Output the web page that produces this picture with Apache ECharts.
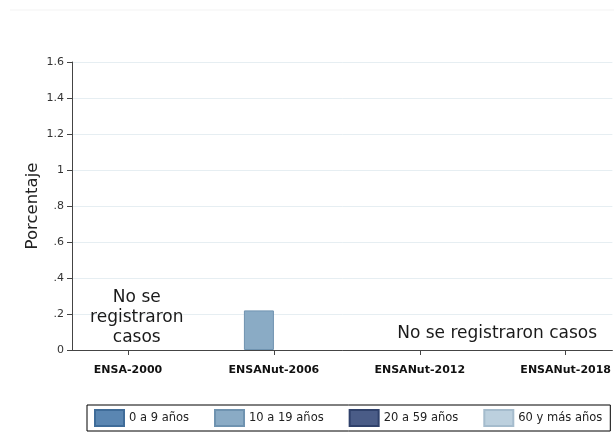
<!DOCTYPE html>
<html><head><meta charset="utf-8">
<script src="https://cdn.jsdelivr.net/npm/echarts@6/dist/echarts.min.js"></script>
<style>html,body{margin:0;padding:0;background:#fff}#c{width:614px;height:436px}</style>
</head><body><div id="c"></div>
<script>
const categories = ['ENSA-2000', 'ENSANut-2006', 'ENSANut-2012', 'ENSANut-2018'];
const seriesNames = ['0 a 9 años', '10 a 19 años', '20 a 59 años', '60 y más años'];
const s0a9 = [null, null, null, null];
const s10a19 = [null, 0.22, null, null];
const s20a59 = [null, null, null, null];
const s60mas = [null, null, null, null];
const yTicks = ['0', '.2', '.4', '.6', '.8', '1', '1.2', '1.4', '1.6'];
const notes = [[0.06, 0.178, 'No se\nregistraron\ncasos'], [2.53, 0.094, 'No se registraron casos']];

const colors = ['#5a86b2', '#8aabc5', '#4a5c87', '#bcd0de'];
const borders = ['#3f6c99', '#6f93b0', '#2f416b', '#a5bccd'];
const allData = [s0a9, s10a19, s20a59, s60mas];
const FONT = 'DejaVu Sans';

const chart = echarts.init(document.getElementById('c'));
const barSeries = allData.map((arr, i) => ({
  type: 'bar', name: seriesNames[i],
  data: arr.map((v, j) => [j, v]),
  barWidth: 30, barGap: '0.001%',
  itemStyle: { color: colors[i], borderColor: borders[i], borderWidth: 1 },
  silent: true
}));
chart.setOption({
  animation: false,
  textStyle: { fontFamily: FONT },
  grid: { left: 72, top: 62, bottom: 86, right: 0, containLabel: false },
  xAxis: {
    type: 'value', min: -0.384, max: 3.32,
    axisLine: { show: true, onZero: false, lineStyle: { color: '#444', width: 1 } },
    axisTick: { show: true, customValues: [0, 1, 2, 3], length: 5, lineStyle: { color: '#444' } },
    axisLabel: { customValues: [0, 1, 2, 3], formatter: v => categories[Math.round(v)], fontWeight: 'bold', fontSize: 11, color: '#111', margin: 15, fontFamily: FONT },
    splitLine: { show: false }
  },
  yAxis: {
    type: 'value', min: 0, max: 1.6, interval: 0.2,
    name: 'Porcentaje', nameLocation: 'middle', nameGap: 31, nameMoveOverlap: false,
    nameTextStyle: { fontSize: 16.5, color: '#222', fontFamily: FONT },
    axisLine: { show: true, onZero: false, lineStyle: { color: '#444', width: 1 } },
    axisTick: { show: true, length: 5, lineStyle: { color: '#444' } },
    axisLabel: { formatter: (v) => yTicks[Math.round(v / 0.2)], fontSize: 11, color: '#333', margin: 8, fontFamily: FONT },
    splitLine: { show: true, lineStyle: { color: '#e6eef2', width: 1 } }
  },
  legend: {
    data: seriesNames.map(n => ({ name: n, icon: 'rect' })), left: 87, top: 405, width: 540, orient: 'horizontal',
    itemWidth: 29, itemHeight: 16, itemGap: 25,
    borderColor: '#000', borderWidth: 1, padding: [4, 8, 4, 7],
    textStyle: { fontSize: 11.5, color: '#222', fontFamily: FONT },
    selectedMode: false
  },
  graphic: [{ type: 'line', shape: { x1: 10, y1: 10, x2: 614, y2: 10 }, style: { stroke: '#f3f3f3', lineWidth: 1 }, silent: true }],
  series: barSeries.concat([{
    type: 'scatter', data: notes, symbolSize: 0, silent: true,
    itemStyle: { opacity: 1 },
    label: { show: true, position: 'inside', formatter: p => p.data[2], fontSize: 17, lineHeight: 20, color: '#1a1a1a', align: 'center', fontFamily: FONT }
  }])
});
</script></body></html>
